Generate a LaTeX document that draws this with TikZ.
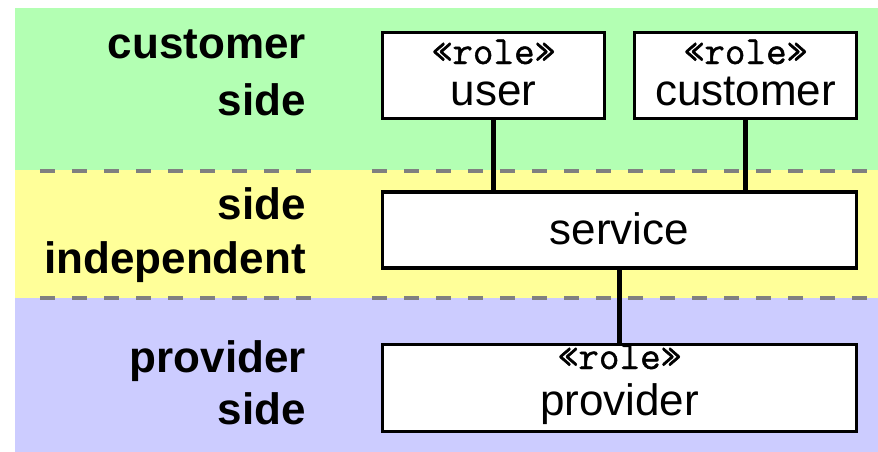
\documentclass[tikz,border=0pt]{standalone}
\usepackage{fontspec}
\setmainfont{Liberation Sans}
\newfontfamily\monofont{Latin Modern Mono}[FakeBold=1.2]
\definecolor{custbg}{RGB}{179,255,179}
\definecolor{indepbg}{RGB}{255,255,153}
\definecolor{provbg}{RGB}{204,204,255}
\definecolor{sepgray}{RGB}{128,128,128}
\tikzset{
  separator/.style={draw=sepgray, line width=4.5pt, dash pattern=on 15pt off 17pt},
  box/.style={draw=black, fill=white, line width=3.5pt, inner sep=0pt},
  link/.style={draw=black, line width=4.5pt},
  sidelabel/.style={anchor=base east, inner sep=0pt, font=\fontsize{44}{50}\selectfont\bfseries},
  stereo/.style={anchor=base, inner sep=0pt, font=\fontsize{40}{44}\selectfont\monofont},
  boxtext/.style={anchor=base, inner sep=0pt, font=\fontsize{44}{50}\selectfont},
}
\begin{document}
\begin{tikzpicture}[x=1pt, y=-1pt]
  \useasboundingbox (0,0) rectangle (878,452);
  \fill[white] (0,0) rectangle (878,452);

  % horizontal bands
  \fill[custbg]  (15,8)   rectangle (878,170);
  \fill[indepbg] (15,170) rectangle (878,298);
  \fill[provbg]  (15,298) rectangle (878,452);

  % band separators
  \draw[separator] (40,171) -- (311,171);
  \draw[separator] (372,171) -- (878,171);
  \draw[separator] (40,298) -- (311,298);
  \draw[separator] (372,298) -- (878,298);

  % band labels
  \node[sidelabel] (lcust)  at (306,59)  {customer};
  \node[sidelabel] (lcside) at (306,115) {side};
  \node[sidelabel] (lside)  at (306,219) {side};
  \node[sidelabel] (lindep) at (306,273) {independent};
  \node[sidelabel] (lprov)  at (306,372) {provider};
  \node[sidelabel] (lpside) at (306,424) {side};

  % boxes
  \node[box, minimum width=222pt, minimum height=86pt] (user)     at (493.5,75.5)  {};
  \node[box, minimum width=222pt, minimum height=86pt] (customer) at (745.5,75.5)  {};
  \node[box, minimum width=474pt, minimum height=76pt] (service)  at (619.5,230) {};
  \node[box, minimum width=474pt, minimum height=87pt] (provider) at (619.5,388)  {};

  % box texts
  \node[stereo]  (userst) at (user.center |- 0,64)  {«role»};
  \node[boxtext] (usernm) at (user.center |- 0,105) {user};
  \node[stereo]  (custst) at (customer.center |- 0,64)  {«role»};
  \node[boxtext] (custnm) at (customer.center |- 0,105) {customer};
  \node[boxtext] (servnm) at (service.center |- 0,244) {service};
  \node[stereo]  (provst) at (provider.center |- 0,369) {«role»};
  \node[boxtext] (provnm) at (provider.center |- 0,415) {provider};

  % connectors
  \draw[link] (user.south) -- (user.south |- service.north);
  \draw[link] (customer.south) -- (customer.south |- service.north);
  \draw[link] (service.south) -- (provider.north);
\end{tikzpicture}
\end{document}
